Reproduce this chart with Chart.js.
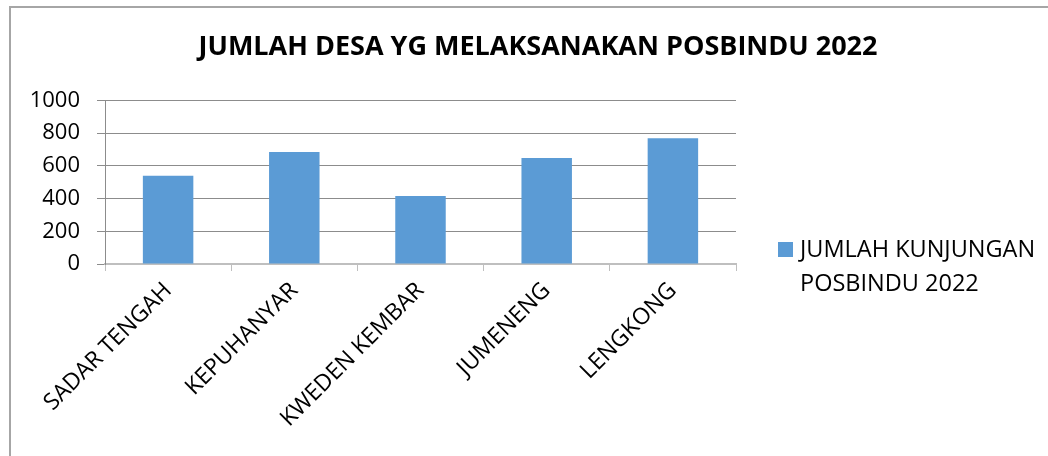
<!DOCTYPE html>
<html>
<head>
<meta charset="utf-8">
<script src="https://cdn.jsdelivr.net/npm/chart.js@4"></script>
<style>
  html, body { margin: 0; padding: 0; background: #fff; }
  #wrap { position: relative; width: 1048px; height: 456px; overflow: hidden; }
  #frame { position: absolute; left: 9px; top: 6px; width: 1100px; height: 500px;
           border-left: 2px solid #a6a6a6; border-top: 2px solid #a6a6a6; }
  canvas { position: absolute; left: 0; top: 0; }
</style>
</head>
<body>
<div id="wrap">
  <div id="frame"></div>
  <canvas id="chart" width="1048" height="456"></canvas>
</div>
<script>
// data
const categories = ["SADAR TENGAH", "KEPUHANYAR", "KWEDEN KEMBAR", "JUMENENG", "LENGKONG"];
const kunjungan = [540, 685, 415, 648, 768];
const seriesName = ["JUMLAH KUNJUNGAN", "POSBINDU 2022"];
const yTicks = [0, 200, 400, 600, 800, 1000];

const FONT = "'Open Sans', 'Noto Sans', sans-serif";
const BAR = "#5b9bd5";

// legend on the right, text wrapped on two lines like the original
const sideLegend = {
  id: "sideLegend",
  afterDraw(chart) {
    const ctx = chart.ctx;
    const area = chart.chartArea;
    const ds = chart.data.datasets[0];
    const x = area.right + 42;
    const y = 242;
    ctx.save();
    ctx.fillStyle = ds.backgroundColor;
    ctx.fillRect(x, y, 15, 15);
    ctx.fillStyle = "#000";
    ctx.font = "23.5px " + FONT;
    ctx.textBaseline = "middle";
    ctx.textAlign = "left";
    ds.label.forEach((line, i) => ctx.fillText(line, x + 22, y + 8 + i * 34));
    ctx.restore();
  }
};

new Chart(document.getElementById("chart"), {
  type: "bar",
  data: {
    labels: categories,
    datasets: [{
      label: seriesName,
      data: kunjungan,
      backgroundColor: BAR,
      barPercentage: 0.4,
      categoryPercentage: 1.0
    }]
  },
  options: {
    responsive: false,
    animation: false,
    layout: { padding: { left: 28, right: 0, top: 0, bottom: 0 } },
    plugins: {
      legend: { display: false },
      tooltip: { enabled: false },
      title: {
        display: true,
        text: "JUMLAH DESA YG MELAKSANAKAN POSBINDU 2022",
        color: "#000",
        font: { family: FONT, size: 27, weight: "bold" },
        padding: { top: 31, bottom: 37 }
      }
    },
    scales: {
      x: {
        grid: { drawOnChartArea: false, drawTicks: true, tickLength: 7, color: "#bfbfbf", offset: true },
        border: { color: "#bfbfbf", width: 2 },
        ticks: {
          color: "#000",
          font: { family: FONT, size: 23 },
          minRotation: 45,
          maxRotation: 45,
          padding: 6,
          autoSkip: false
        },
        afterFit(s) { s.height = 192; }
      },
      y: {
        min: 0,
        max: 1000,
        afterBuildTicks(s) { s.ticks = yTicks.map(v => ({ value: v })); },
        grid: { color: "#8c8c8c", lineWidth: 1, tickLength: 8 },
        border: { color: "#8c8c8c", width: 1 },
        ticks: {
          color: "#000",
          font: { family: FONT, size: 22 },
          padding: 17,
          callback: v => String(v)
        },
        afterFit(s) { s.width = 77; }
      },
      // empty box that keeps the right side free for the legend
      side: {
        type: "linear",
        position: "right",
        display: true,
        grid: { display: false, drawTicks: false },
        border: { display: false },
        ticks: { display: false },
        afterFit(s) { s.width = 312; }
      }
    }
  },
  plugins: [sideLegend]
});
</script>
</body>
</html>
